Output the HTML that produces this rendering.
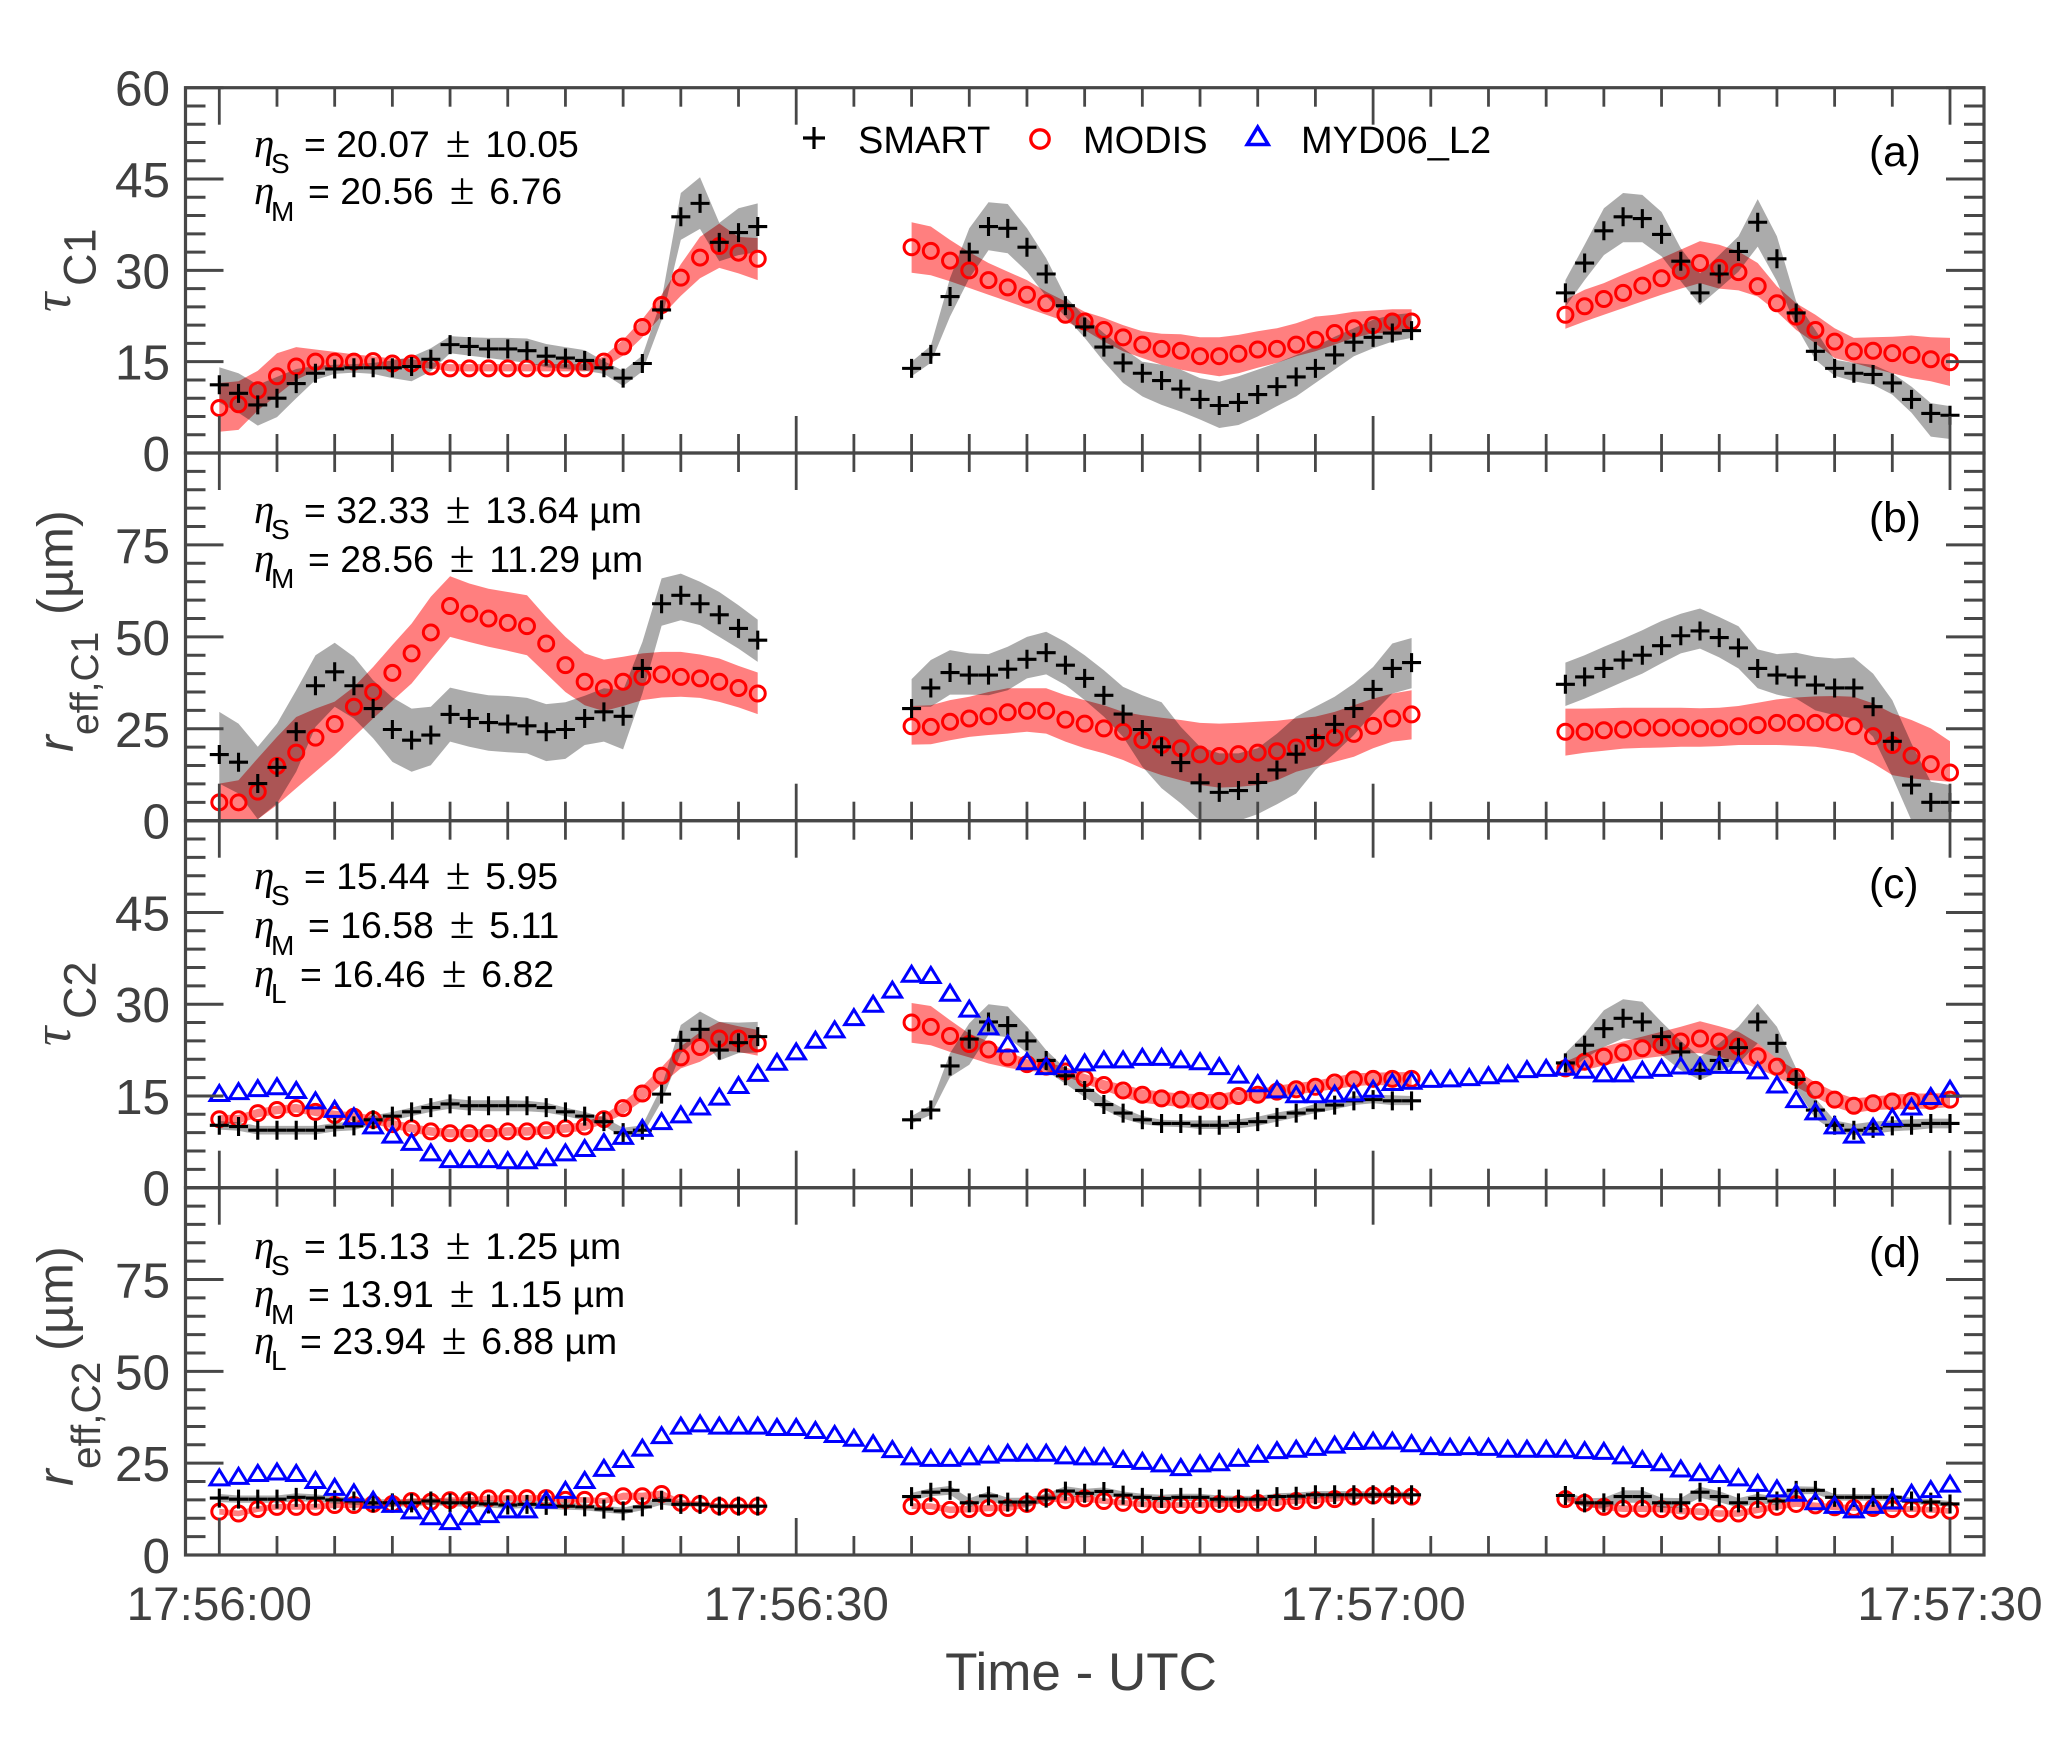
<!DOCTYPE html>
<html lang="en">
<head>
<meta charset="utf-8">
<title>Cloud retrieval time series</title>
<style>
html,body{margin:0;padding:0;background:#fff;}
svg{display:block;}
text{font-family:"Liberation Sans",Arial,sans-serif;}
.axis-text{fill:#404040;}
.note{font-size:37.4px;fill:#000;}
.pm{font-family:"Liberation Serif",serif;font-size:45px;}
.eta{font-family:"Liberation Serif",serif;font-style:italic;font-size:41px;fill:#000;}
.sub{font-size:28px;fill:#000;}
.legend-text{font-size:38px;fill:#000;}
.panel-tag{font-size:42.5px;fill:#000;}
.tau{font-family:"Liberation Serif",serif;font-style:italic;font-size:54px;fill:#404040;}
.r{font-style:italic;font-size:50px;fill:#404040;}
.ysub-tau{font-size:45px;fill:#404040;}
.ysub-r{font-size:39px;fill:#404040;}
.unit{font-size:50.5px;fill:#404040;}
</style>
</head>
<body>
<svg id="chart" xmlns="http://www.w3.org/2000/svg" width="2066" height="1744" viewBox="0 0 2066 1744">
<rect x="0" y="0" width="2066" height="1744" fill="#fff"/>
<g id="bands"></g>
<g id="markers"></g>
<g id="axes"></g>

<g>
<text class="eta" x="254" y="157">η</text><text class="sub" x="271" y="173">S</text><text class="note" x="304" y="157">= 20.07 <tspan class="pm" dx="5.500">±</tspan><tspan dx="4.500"> 10.05</tspan></text>
<text class="eta" x="254" y="204">η</text><text class="sub" x="271" y="221">M</text><text class="note" x="308" y="204">= 20.56 <tspan class="pm" dx="5.500">±</tspan><tspan dx="4.500"> 6.76</tspan></text>
</g>
<g>
<text class="eta" x="254" y="523">η</text><text class="sub" x="271" y="539">S</text><text class="note" x="304" y="523">= 32.33 <tspan class="pm" dx="5.500">±</tspan><tspan dx="4.500"> 13.64 µm</tspan></text>
<text class="eta" x="254" y="572">η</text><text class="sub" x="271" y="588">M</text><text class="note" x="308" y="572">= 28.56 <tspan class="pm" dx="5.500">±</tspan><tspan dx="4.500"> 11.29 µm</tspan></text>
</g>
<g>
<text class="eta" x="254" y="889">η</text><text class="sub" x="271" y="905">S</text><text class="note" x="304" y="889">= 15.44 <tspan class="pm" dx="5.500">±</tspan><tspan dx="4.500"> 5.95</tspan></text>
<text class="eta" x="254" y="938">η</text><text class="sub" x="271" y="955">M</text><text class="note" x="308" y="938">= 16.58 <tspan class="pm" dx="5.500">±</tspan><tspan dx="4.500"> 5.11</tspan></text>
<text class="eta" x="254" y="987">η</text><text class="sub" x="271" y="1003">L</text><text class="note" x="300" y="987">= 16.46 <tspan class="pm" dx="5.500">±</tspan><tspan dx="4.500"> 6.82</tspan></text>
</g>
<g>
<text class="eta" x="254" y="1259">η</text><text class="sub" x="271" y="1275">S</text><text class="note" x="304" y="1259">= 15.13 <tspan class="pm" dx="5.500">±</tspan><tspan dx="4.500"> 1.25 µm</tspan></text>
<text class="eta" x="254" y="1307">η</text><text class="sub" x="271" y="1324">M</text><text class="note" x="308" y="1307">= 13.91 <tspan class="pm" dx="5.500">±</tspan><tspan dx="4.500"> 1.15 µm</tspan></text>
<text class="eta" x="254" y="1354">η</text><text class="sub" x="271" y="1370">L</text><text class="note" x="300" y="1354">= 23.94 <tspan class="pm" dx="5.500">±</tspan><tspan dx="4.500"> 6.88 µm</tspan></text>
</g>

<g>
<path d="M803 138h22M814 127v22" stroke="#000" stroke-width="3.200" fill="none"/>
<text class="legend-text" x="858" y="153">SMART</text>
<circle cx="1040" cy="139" r="9.200" fill="none" stroke="#f00" stroke-width="3.300"/>
<text class="legend-text" x="1083" y="153">MODIS</text>
<polygon points="1257.700,127 1268.200,144.500 1247.200,144.500" fill="none" stroke="#00f" stroke-width="3.500"/>
<text class="legend-text" x="1301" y="153">MYD06_L2</text>
</g>

<text class="panel-tag" x="1869" y="166">(a)</text>
<text class="panel-tag" x="1869" y="532">(b)</text>
<text class="panel-tag" x="1869" y="898">(c)</text>
<text class="panel-tag" x="1869" y="1267">(d)</text>

<g>
<text class="tau" transform="translate(70,312) rotate(-90)">τ</text>
<text class="ysub-tau" transform="translate(95.500,286) rotate(-90)">C1</text>
</g>
<g>
<text class="r" transform="translate(73,752) rotate(-90)">r</text>
<text class="ysub-r" transform="translate(98,735) rotate(-90)">eff,C1</text>
<text class="unit" transform="translate(72.500,615) rotate(-90)">(µm)</text>
</g>
<g>
<text class="tau" transform="translate(70,1046) rotate(-90)">τ</text>
<text class="ysub-tau" transform="translate(95.500,1019) rotate(-90)">C2</text>
</g>
<g>
<text class="r" transform="translate(73,1486) rotate(-90)">r</text>
<text class="ysub-r" style="font-size:40.5px" transform="translate(100,1469) rotate(-90)">eff,C2</text>
<text class="unit" transform="translate(72.500,1351) rotate(-90)">(µm)</text>
</g>
<text class="axis-text" x="1081" y="1690" font-size="53" text-anchor="middle">Time - UTC</text>
</svg>

<script>
// Sample windows (seconds after 17:56:00) where SMART and MODIS have data
const segmentStarts = [0, 36, 70];
const segmentEnds = [28, 62, 90];

// Panel (a) tau C1
const aSmart = [11.2,9.8,7.9,9,11.4,13.1,13.8,14,14,14,14.2,15.4,17.8,17.5,17.1,17.1,16.8,15.9,15.6,15.2,14,12.3,14.7,23.5,38.8,41,34.6,36.2,37.2,
13.9,16.2,25.7,33,37.2,36.9,33.8,29.4,24.2,20.7,17.4,14.8,13.1,11.9,10.5,8.8,7.8,8.3,9.6,10.9,12.5,13.9,16.1,18.2,19,19.7,20.1,
26.3,31.2,36.5,38.8,38.5,35.9,31.5,26.3,29.4,33.1,37.9,31.9,23,16.7,13.9,13.1,12.9,11.5,8.8,6.5,6.2];
const aSmartHigh = [14.1,13.1,11.2,12.5,13.8,14.3,14.5,14.6,14.8,15.2,15.8,17.2,19.2,19,18.9,18.9,18.8,17.9,17.4,16.9,15.1,13.5,16,25.2,42.7,45.3,37.8,40.2,41,
15,17.6,28.7,36.9,41.2,40.9,36.9,32,25.7,22.4,19.7,17.2,15,14.5,13.7,12.3,11.7,12.6,13.7,14.8,16.1,17.5,19.1,20.5,21.9,22.7,23,
28.4,34.2,40.2,42.7,42.4,39.6,33.6,29.5,32.5,35.6,41.7,35.6,24.9,20.2,15.3,14.8,14.5,13.1,10.9,8.2,7.7];
const aSmartLow = [8.3,6.6,4.5,5.9,9,12,13,13.2,13,12.3,11.8,13.4,16.4,16,15.6,15.2,14.8,14.1,13.8,13.5,13,11,13.4,21.8,35,36.8,31.5,32.5,33,
12.6,14.8,22.4,28.7,33.3,32.8,29.8,25.7,22.4,18.9,15,11.5,9.3,7.9,6.8,5.5,4.1,4.6,6,7.7,9.3,11.5,13.7,15.9,17.2,18.3,18.9,
24,28.4,32.5,34.6,34.6,32.3,28.2,24.3,27,29.8,33.9,28.2,20.8,15.3,12.7,11.8,11.2,9.6,6.6,2.7,2.3];
const aModis = [7.4,8,10.3,12.6,14.2,15,15,15,15.1,14.7,14.7,14.2,13.9,13.9,13.9,13.9,13.9,13.9,13.9,13.9,15,17.5,20.7,24.3,28.8,32.1,34,32.9,31.9,
33.8,33.2,31.6,30,28.4,27.2,26,24.6,22.7,21.6,20.2,19,17.8,17.1,16.8,15.9,15.9,16.3,17,17.1,17.8,18.6,19.7,20.5,21,21.6,21.6,
22.7,24.1,25.3,26.3,27.5,28.7,29.9,31.2,30.4,29.7,27.4,24.6,22.4,20.2,18.3,16.7,16.8,16.4,16.1,15.4,14.9];
const aModisHigh = [11.5,11.8,13.5,16.4,17.4,17,16.6,16.2,15.9,15.5,15.4,14.9,14.6,14.6,14.6,14.6,14.6,14.6,14.6,14.6,15.9,18.6,22,26,31,35.5,37.7,35.5,35.3,
37.9,37.2,35,33,31.2,29.8,28.4,26.5,24.9,23.2,22.2,21,20,19.6,19.5,19,19,19.4,20,20.5,21.3,22.4,22.7,23.2,23.4,23.6,23.6,
25.2,26.8,27.9,29.3,30.6,32,33.4,34.8,34.2,33.1,31.2,27.4,24.6,22.7,20.5,18.9,19,19.1,19.3,19,18.9];
const aModisLow = [3.5,3.8,7,9.5,12,13.5,14,14.2,14.2,14,14,13.9,13.4,13.4,13.4,13.4,13.4,13.4,13.4,13.4,14,16,19,22.5,25.8,28.7,30.4,29.5,28.4,
29.6,29.2,28.2,27.1,26,24.9,23.8,22.7,21.6,20.2,18.3,16.7,15.6,14.5,13.7,13.1,12.6,13.1,14,14.8,15.9,16.7,17.8,18.9,19.7,19.7,20,
20.4,21.6,22.7,23.8,24.9,26,27,27.9,27,26.7,25.7,23.2,20.2,18,15.6,14.8,13.9,13.1,12.3,11.8,11];

// Panel (b) r_eff C1
const bSmart = [18,15.9,10.1,14.5,24.2,36.7,40.5,36.7,30.5,24.8,21.9,23.3,28.9,27.8,26.7,26.3,25.8,24.2,24.8,27.8,29.6,28.4,41.4,59,61.3,59,56,52.3,49.1,
30.5,36.1,40.3,39.6,39.6,41.2,43.9,45.7,42.3,38.7,34.1,29,24.8,20.1,15.8,10.3,7.7,8.2,10.4,13.8,18.1,22.6,26.2,30.5,35.7,41.4,43,
37.1,39.1,41.4,43.7,45,47.6,50.3,51.6,49.8,47,41.4,39.6,39.1,36.9,36.1,36.1,31,21.6,9.7,5,5];
const bSmartHigh = [29.6,26.4,20.1,26.4,35.5,45,48.4,44.6,38.2,33.5,30.5,31,36.2,35,34.1,33.9,33.4,31.7,32.2,34,36,35.5,48.6,65.9,67.2,65,62.2,58.6,54.7,
38.5,43.7,46.4,45.5,45.3,47.3,50,51.4,48.6,45,40.9,36.4,34.1,32.2,25.5,20.1,18.3,18.3,19.7,23.7,28.3,31,33.7,37.3,41.8,48.2,49.7,
43,45,47.3,49.5,51.8,54.3,56.3,57.7,55.4,52.9,46.6,45.3,45.7,44.6,44.1,44.4,40,32.8,21,10.6,9.7];
const bSmartLow = [10.1,7.4,0.4,4.7,13.3,25.5,31,27.8,22.4,16,13.3,15.1,21.5,20.1,19,18.6,18.3,16.2,16.8,20.6,21.5,19.4,34.6,53,54.5,53.2,50,46.8,43.2,
31,31,34.3,34.3,34.1,35.5,38.7,39.8,36.9,32.8,28.3,22.8,14.7,8.8,4.7,0,0,0,1.8,4.5,7.4,13.8,18.3,23.3,29.2,34.6,36,
31.2,33.2,35.5,37.8,40,42.8,45.5,46.8,44.4,41.4,36,34.3,33.2,30,28.7,27.8,22.8,12,0,0,0];
const bModis = [5,5,7.9,14.9,18.5,22.6,26.3,31,35,40.2,45.5,51.2,58.4,56.3,55,53.8,52.9,48.2,42.3,37.8,36,37.8,39.1,39.8,39.1,38.7,37.8,36.1,34.6,
25.7,25.5,26.9,27.8,28.4,29.5,29.9,29.9,27.5,26.4,25.1,24.2,21.9,20.6,19.7,18,17.6,18.1,18.5,18.9,19.9,21.2,22.6,23.6,25.8,27.8,28.9,
24.2,24.2,24.6,24.8,25.3,25.3,25.3,25.1,25.1,25.7,26,26.6,26.6,26.6,26.7,25.7,23,20.6,17.7,15.4,13.1];
const bModisHigh = [10.1,11,17,22.8,28.2,30.5,32.4,36.4,41.8,47.8,53.6,60.9,66.5,64.5,63.1,62.2,61.3,55.4,50,45.5,43.8,44.6,45.5,45.9,45.9,45.2,44.1,42.1,40.3,
31.2,31.4,32.8,33.7,35,36,36,36,34.1,32.8,31.4,29.6,28.7,28,27.4,26.6,26.4,26.6,26.9,27.2,27.8,28.3,29.6,31.4,33.2,34.6,35.5,
30.5,30.5,30.6,30.7,30.7,30.7,30.7,30.6,30.7,31.2,32.1,33,33.5,33.8,33.9,33.7,31.9,29.2,27.4,25.1,21.6];
const bModisLow = [0,0,0.4,4.3,8.8,13.3,17.8,22.8,27.8,32.6,37.3,43.7,50,48.6,47.3,46.2,45,40,35,31.4,29.8,31.2,32.8,33.5,33.7,33.4,32.3,30.8,29,
20.7,20.8,21.9,22.8,23.3,23.7,24.2,23.7,21.5,19.7,18.3,16.5,14.2,12.4,11,9.7,9,9.2,9.7,11,13.3,14.7,16,17.4,19.7,21.5,22.1,
17.7,18.5,19,19.6,19.8,19.9,20.1,20.1,20.3,20.6,20.6,20.6,20.4,20.1,19.4,18.3,15.6,12.4,11.5,11,10.6];

// Panel (c) tau C2
const cSmart = [10.2,10,9.4,9.4,9.4,9.4,9.9,10.1,11.1,11.7,12.4,13.1,13.7,13.4,13.4,13.4,13.4,13.1,12.4,11.7,10.8,9,9.4,15.3,24.1,25.9,22.5,23.7,24.7,
11.1,12.7,19.9,24.3,27.1,26.5,24,20.8,18.3,15.9,13.6,12.2,11.1,10.5,10.5,10.2,10.2,10.5,10.8,11.5,12.2,12.7,13.5,14.2,14.4,14.2,14.2,
20.4,23.3,26,27.7,27.1,24.7,22.2,19.2,20.8,22.9,27.1,23.6,17.7,12.7,10.2,9.4,9.7,10.1,10.2,10.5,10.5];
const cSmartHigh = [10.9,10.7,10.1,10.1,10.1,10.1,10.6,10.8,11.8,12.4,13.1,13.9,14.6,14.3,14.3,14.3,14.2,13.9,13.1,12.4,11.5,9.8,10.2,16.5,26.6,28.8,27.1,27,27.1,
11.7,13.5,22,26.9,30,29.6,26.3,22.5,19.5,17,14.6,13,11.7,11.1,11,11,11,11.2,11.6,12.3,12.8,13.7,14.3,15,15.2,15.1,15,
22,25.2,29,30.8,30.4,27.1,24,21.4,23.6,26.3,30.1,26.3,19.5,14.6,11,10.4,10.8,11,11.2,11.3,11.3];
const cSmartLow = [9.5,9.3,8.7,8.7,8.7,8.7,9.2,9.4,10.4,11,11.7,12.4,12.9,12.6,12.5,12.5,12.5,12.3,11.7,11,10.1,8.2,8.6,14.1,21.9,24.8,20.8,22,22.1,
10.5,11.9,18.1,20.1,25,24.6,22,19.1,17,14.8,12.8,11.3,10.4,10,9.9,9.6,9.6,9.7,10.1,10.8,11.5,12.2,12.8,13.5,13.8,13.5,13.5,
18.7,21.1,23,24.4,24.1,21.7,19.2,17.6,19,20.3,23.6,21.1,16.2,11.3,9.2,8.6,8.8,9.2,9.4,9.7,9.7];
const cModis = [11.2,11.2,12.2,12.7,13,12.4,11.9,11.6,11.1,10.4,9.7,9.2,8.9,8.9,8.9,9.2,9.2,9.4,9.7,10,11.2,13,15.4,18.3,21.3,23,24.4,24.4,23.6,
27,26.3,24.8,23.5,22.6,21.3,20.2,19.8,19,17.9,16.8,15.9,15.2,14.6,14.4,14.2,14.2,15,15.2,15.7,16.1,16.5,17.2,17.7,17.8,17.8,17.8,
19.5,20.6,21.4,22.1,22.8,23.3,23.9,24.4,23.9,23.1,21.5,19.8,18.1,16,14.4,13.4,13.8,14.1,14.2,14.2,14.4];
const cModisHigh = [11.9,11.9,12.9,13.4,13.7,13.1,12.6,12.3,11.8,11.1,10.4,9.9,9.6,9.6,9.6,9.9,9.9,10.1,10.4,10.7,11.9,14,16.6,19.7,23.1,25.4,27.1,26.4,25.8,
30.2,29.7,27.4,25.2,23.9,22.2,21,20.5,19.7,18.6,17.6,16.8,16.1,15.7,15.4,15.3,15.3,15.9,16.1,16.7,17.1,17.5,18.1,18.7,18.8,18.9,18.9,
20.6,22,23,23.9,24.7,25.5,26.3,27.2,26.4,25.5,23.6,21.1,19.2,17.2,15.7,14.6,14.9,15.2,15.4,15.4,15.5];
const cModisLow = [10.5,10.5,11.5,12,12.3,11.7,11.2,10.9,10.4,9.7,9,8.5,8.2,8.2,8.2,8.5,8.5,8.7,9,9.3,10.5,12,14.2,16.9,19.5,20.6,22.5,22.2,21.6,
23.7,23.3,22.2,21.3,20.3,19.6,19.1,18.9,18.2,17,15.9,14.8,13.9,13.5,13.2,13,13,14.1,14.2,14.8,15.2,15.7,16.1,16.6,16.8,16.7,16.5,
18.4,19.2,20,20.6,21.1,21.5,22,22,21.4,20.6,19.5,18.1,16.5,14.8,13.2,12.2,12.7,12.8,12.9,12.9,13.2];
const cMyd06 = [15.4,15.7,16.2,16.5,15.9,14.2,12.8,11.6,10.1,8.6,7.4,5.7,4.6,4.6,4.6,4.4,4.4,4.9,5.7,6.4,7.4,8.4,9.7,10.8,11.9,13.2,14.8,16.7,18.7,20.5,22.2,24.1,25.8,27.8,30,32.3,
34.9,34.7,31.8,29.2,26.3,23.5,20.6,19.8,20.1,20.4,20.9,20.9,21.3,21.3,20.9,20.6,19.8,18.4,17,16,15.2,15.2,15.3,15.5,16.1,17.2,17.4,17.7,17.8,18,18.3,18.6,19.3,19.5,
19.7,19.2,18.6,18.6,19.2,19.5,19.9,19.8,20,20,19.1,16.8,14.4,12.4,10.1,8.6,9.9,11.5,13.2,14.9,16.1];

// Panel (d) r_eff C2
const dSmart = [15.5,15.2,15.2,15.2,15.7,15.5,15,14.7,14.2,14.2,14.2,14.7,14.2,14.2,13.9,13.6,13.8,13.5,13.3,13.1,12.5,12,13.1,14.9,13.8,13.8,13.3,13.3,13.3,
15.9,17.1,17.6,14.2,16.1,14.4,14.4,15.5,17.4,16.8,17.3,16.3,15.7,15.4,15.7,15.7,15.2,15.2,15.2,15.9,16,16.4,16.4,16.4,16.4,16.4,16.4,
16.2,14.2,14.2,15.9,15.9,14.2,14.2,17.1,15.9,14.2,15.4,14.7,17.6,17.6,15.7,15.7,15.7,15.7,14.7,14.4,13.9];
const dSmartSpread = [1.1,1,1,1,1.1,1,1,1,1,1,1,1,1,1,1,1,1,1,1,.9,.9,.9,.9,1.2,.7,.6,.5,.5,.5,
1,1.1,1.2,1.2,1.2,1.2,1.2,1.2,1.3,1.2,1.1,1,1,1,1,1,1,.9,.9,.9,1,1,1,1,.9,.8,.8,
1.1,1.2,1.4,1.7,1.7,1.4,1.3,1.5,1.5,1.3,1.3,1.2,1.1,1,.9,.9,.9,.9,.9,.8,.8];
const dModis = [11.8,11.3,12.5,13.1,13.1,13.1,13.6,13.6,13.9,13.9,14.7,14.5,14.9,14.9,15.4,15.5,15.5,15.5,15,15,14.7,16,16,16.6,14.2,13.9,13.3,13.3,13.3,
13.3,13.3,12.3,12.5,12.8,12.8,13.9,15.7,14.9,15.4,14.7,14.2,13.8,13.6,13.6,13.6,13.9,13.9,14.2,14.2,14.7,14.9,15.2,15.9,16.2,16.2,15.9,
15.2,14.2,13.1,12.6,12.6,12.5,12,11.8,11.3,11.3,12.3,13.1,13.9,13.5,13,12.8,12.8,12.5,12.5,12.3,12];
const dModisSpread = [.8,.8,.8,.8,.8,.8,.8,.8,.8,.8,.8,.8,.8,.8,.8,.8,.8,.8,.8,.8,.8,1,1,1,.8,.7,.7,.7,.7,
.8,.8,.9,.9,.9,.9,.9,.9,.9,.9,.8,.8,.8,.8,.8,.8,.8,.8,.8,.8,.8,.8,.7,.7,.7,.7,.7,
.8,.8,.9,.9,.9,.9,.9,.9,.9,.9,.9,.8,.8,.8,.8,.8,.8,.8,.8,.8,.8];
const dMyd06 = [21,21.4,22.2,22.6,22.2,20.3,18.4,16.9,14.9,13.8,12,10.4,9.1,10.4,11,12.3,12.3,14.9,17.6,20.3,23.6,26,29.1,32.5,35.1,35.7,35.1,35.1,35.1,34.7,34.7,33.9,32.8,31.8,30.3,28.7,26.7,26.3,26.3,26.7,27.2,
27.7,27.7,27.7,27,26.7,26.7,26,25.5,24.8,23.8,24.8,25.1,26.3,27.4,28.4,28.8,29.3,29.9,30.9,31,31,30.3,29.5,29.3,29.5,29.3,28.8,28.8,28.8,28.8,28.4,28.2,27,26,25.1,23.4,22.4,21.9,21,19.5,18,16.8,14.5,13.5,12.3,13.5,14.7,16.8,17.8,19.3];

// Axis tick labels
const xTickLabels = ['17:56:00', '17:56:30', '17:57:00', '17:57:30'];
const xTickSeconds = [0, 30, 60, 90];
const aTicks = [0, 15, 30, 45, 60];
const bTicks = [0, 25, 50, 75];
const cTicks = [0, 15, 30, 45];
const dTicks = [0, 25, 50, 75];

const NS = 'http://www.w3.org/2000/svg';
const bandLayer = document.getElementById('bands');
const markerLayer = document.getElementById('markers');
const axisLayer = document.getElementById('axes');

const plotLeft = 185.5, plotRight = 1984;
const secondPx = (1950 - 219.3) / 90;
function xScale(seconds) { return 219.3 + seconds * secondPx; }
function panelScale(top, bottom, max) {
  return function (value) { return bottom - (value / max) * (bottom - top); };
}
function make(tag, parent, attrs) {
  const el = document.createElementNS(NS, tag);
  for (const key in attrs) el.setAttribute(key, attrs[key]);
  parent.appendChild(el);
  return el;
}
function segmentTimes(index) {
  const times = [];
  for (let t = segmentStarts[index]; t <= segmentEnds[index]; t++) times.push(t);
  return times;
}
function drawBand(high, low, y, color, opacity, bandName) {
  let offset = 0;
  for (let s = 0; s < segmentStarts.length; s++) {
    const times = segmentTimes(s);
    const upper = times.map(function (t, i) { return xScale(t).toFixed(1) + ',' + y(high[offset + i]).toFixed(1); });
    const lower = times.map(function (t, i) { return xScale(t).toFixed(1) + ',' + y(low[offset + i]).toFixed(1); }).reverse();
    const band = make('polygon', bandLayer, { points: upper.concat(lower).join(' '), fill: color, 'fill-opacity': opacity });
    
    
    offset += times.length;
  }
}
function drawCircles(values, y) {
  let offset = 0;
  for (let s = 0; s < segmentStarts.length; s++) {
    const times = segmentTimes(s);
    times.forEach(function (t, i) {
      const mark = make('circle', markerLayer, { cx: xScale(t), cy: y(values[offset + i]), r: 7.5, fill: 'none', stroke: '#f00', 'stroke-width': 3 });
      
      
    });
    offset += times.length;
  }
}
function drawPluses(values, y) {
  let offset = 0;
  for (let s = 0; s < segmentStarts.length; s++) {
    const times = segmentTimes(s);
    times.forEach(function (t, i) {
      const cx = xScale(t), cy = y(values[offset + i]);
      const mark = make('path', markerLayer, { d: 'M' + (cx - 9.5) + ' ' + cy + 'h19M' + cx + ' ' + (cy - 9.5) + 'v19', fill: 'none', stroke: '#000', 'stroke-width': 3.1 });
      
      
    });
    offset += times.length;
  }
}
function drawTriangles(values, y) {
  values.forEach(function (value, t) {
    const cx = xScale(t), cy = y(value);
    const pts = cx + ',' + (cy - 8) + ' ' + (cx + 9.2) + ',' + (cy + 7) + ' ' + (cx - 9.2) + ',' + (cy + 7);
    const mark = make('polygon', markerLayer, { points: pts, fill: 'none', stroke: '#00f', 'stroke-width': 3 });
    
    
  });
}
function addSpread(values, spread, sign) {
  return values.map(function (value, i) { return value + sign * spread[i]; });
}
function tickLine(x1, y1, x2, y2, width, tickName) {
  const tick = make('line', axisLayer, { x1: x1, y1: y1, x2: x2, y2: y2, stroke: '#474747', 'stroke-width': width });
  
  
}
function drawAxes(top, bottom, max, minorStep, labels) {
  const y = panelScale(top, bottom, max);
  for (let t = 0; t <= 90; t += 3) {
    const len = t % 30 === 0 ? 37 : 19;
    tickLine(xScale(t), top, xScale(t), top + len, 2.8, 'x-tick-top');
    tickLine(xScale(t), bottom, xScale(t), bottom - len, 2.8, 'x-tick-bottom');
  }
  const majorStep = minorStep * 5;
  for (let v = 0; v <= max; v += minorStep) {
    const len = v % majorStep === 0 ? 38 : 20;
    tickLine(plotLeft, y(v), plotLeft + len, y(v), 3, 'y-tick-left');
    tickLine(plotRight, y(v), plotRight - len, y(v), 3, 'y-tick-right');
  }
  labels.forEach(function (v) {
    const label = make('text', axisLayer, { x: 170, y: y(v) + 18, 'font-size': 49.5, 'text-anchor': 'end', class: 'axis-text' });
    
    
    label.textContent = v;
  });
}

const rows = [
  [87.7, 453, 60],
  [453, 820.7, 100],
  [820.7, 1187.7, 60],
  [1187.7, 1555, 100]
];
const yA = panelScale(rows[0][0], rows[0][1], rows[0][2]);
const yB = panelScale(rows[1][0], rows[1][1], rows[1][2]);
const yC = panelScale(rows[2][0], rows[2][1], rows[2][2]);
const yD = panelScale(rows[3][0], rows[3][1], rows[3][2]);

const redFill = '#ff0000', greyFill = '#000000';
drawBand(aModisHigh, aModisLow, yA, redFill, 0.5, 'modis-band-a');
drawBand(aSmartHigh, aSmartLow, yA, greyFill, 0.33, 'smart-band-a');
drawBand(bModisHigh, bModisLow, yB, redFill, 0.5, 'modis-band-b');
drawBand(bSmartHigh, bSmartLow, yB, greyFill, 0.33, 'smart-band-b');
drawBand(cModisHigh, cModisLow, yC, redFill, 0.5, 'modis-band-c');
drawBand(cSmartHigh, cSmartLow, yC, greyFill, 0.33, 'smart-band-c');
drawBand(addSpread(dModis, dModisSpread, 1), addSpread(dModis, dModisSpread, -1), yD, redFill, 0.5, 'modis-band-d');
drawBand(addSpread(dSmart, dSmartSpread, 1), addSpread(dSmart, dSmartSpread, -1), yD, greyFill, 0.33, 'smart-band-d');

drawCircles(aModis, yA);
drawPluses(aSmart, yA);
drawCircles(bModis, yB);
drawPluses(bSmart, yB);
drawCircles(cModis, yC);
drawPluses(cSmart, yC);
drawTriangles(cMyd06, yC);
drawCircles(dModis, yD);
drawPluses(dSmart, yD);
drawTriangles(dMyd06, yD);

drawAxes(rows[0][0], rows[0][1], rows[0][2], 3, aTicks);
drawAxes(rows[1][0], rows[1][1], rows[1][2], 5, bTicks);
drawAxes(rows[2][0], rows[2][1], rows[2][2], 3, cTicks);
drawAxes(rows[3][0], rows[3][1], rows[3][2], 5, dTicks);

rows.forEach(function (row) {
  const frame = make('rect', axisLayer, { x: plotLeft, y: row[0], width: plotRight - plotLeft, height: row[1] - row[0], fill: 'none', stroke: '#474747', 'stroke-width': 3.2 });
  
  
});

xTickLabels.forEach(function (text, i) {
  const label = make('text', axisLayer, { x: xScale(xTickSeconds[i]), y: 1620, 'font-size': 47.6, 'text-anchor': 'middle', class: 'axis-text' });
  
  
  label.textContent = text;
});
</script>
</body>
</html>
